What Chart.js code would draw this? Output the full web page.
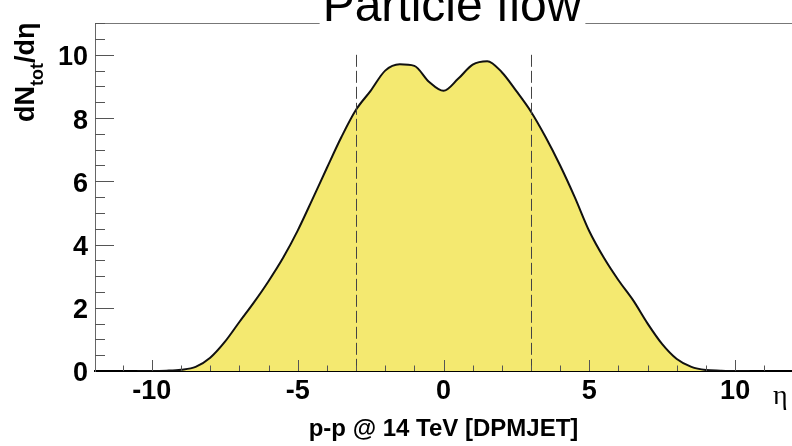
<!DOCTYPE html>
<html>
<head>
<meta charset="utf-8">
<script src="https://cdn.jsdelivr.net/npm/chart.js@4.4.1/dist/chart.umd.min.js"></script>
<style>
html,body{margin:0;padding:0;background:#fff;}
#wrap{width:792px;height:446px;position:relative;}
</style>
</head>
<body>
<div id="wrap"><canvas id="c" width="792" height="446"></canvas></div>
<script>
// ---- data ----
const etaValues = [-10.5,-10,-9.5,-9,-8.5,-8,-7.5,-7,-6.5,-6,-5.5,-5,-4.5,-4,-3.5,-3,-2.5,-2,-1.5,-1,-0.5,0,
                   0.5,1,1.5,2,2.5,3,3.5,4,4.5,5,5.5,6,6.5,7,7.5,8,8.5,9,9.5,10,10.5];
const dNdEta    = [0,0,0.01,0.04,0.13,0.42,0.92,1.55,2.17,2.84,3.58,4.44,5.42,6.42,7.4,8.26,8.86,9.5,9.7,9.65,9.15,8.86,
                   9.24,9.69,9.8,9.45,8.85,8.2,7.4,6.5,5.5,4.42,3.58,2.87,2.24,1.5,0.85,0.38,0.13,0.03,0.01,0,0];
const xTickValues = [-10,-5,0,5,10];
const yTickValues = [0,2,4,6,8,10];
const cutEta = [-3,3];
const cutTop = 10;
const titleText = 'Particle flow';
const xTitleText = 'p-p @ 14 TeV [DPMJET]';
const yTitleMain = 'dN';
const yTitleSub = 'tot';
const yTitleEnd = '/dη';
const xUnitText = 'η';

const SANS = "'Liberation Sans', Arial, Helvetica, sans-serif";

const decor = {
  id: 'decor',
  beforeDraw(chart) {
    const ctx = chart.ctx;
    ctx.save();
    ctx.fillStyle = '#ffffff';
    ctx.fillRect(0, 0, chart.width, chart.height);
    ctx.restore();
  },
  afterDatasetsDraw(chart) {
    const ctx = chart.ctx, a = chart.chartArea;
    const xs = chart.scales.x, ys = chart.scales.y;
    ctx.save();
    // dashed cut lines
    ctx.strokeStyle = '#444';
    ctx.lineWidth = 1;
    ctx.setLineDash([12, 4]);
    cutEta.forEach(e => {
      const px = Math.round(xs.getPixelForValue(e)) + 0.5;
      ctx.beginPath();
      ctx.moveTo(px, ys.getPixelForValue(cutTop));
      ctx.lineTo(px, ys.getPixelForValue(0));
      ctx.stroke();
    });
    ctx.setLineDash([]);
    // top frame
    ctx.strokeStyle = '#777';
    ctx.beginPath();
    ctx.moveTo(a.left, Math.round(a.top) + 0.5);
    ctx.lineTo(a.right, Math.round(a.top) + 0.5);
    ctx.stroke();
    // inward ticks
    ctx.strokeStyle = '#555';
    for (let k = 1; k <= 22; k++) {
      const v = k * 0.5;
      const major = (k % 4 === 0);
      const py = Math.round(ys.getPixelForValue(v)) + 0.5;
      ctx.beginPath();
      ctx.moveTo(a.left, py);
      ctx.lineTo(a.left + (major ? 19 : 10), py);
      ctx.stroke();
    }
    for (let v = -11; v <= 11; v++) {
      const major = (v % 5 === 0);
      const px = Math.round(xs.getPixelForValue(v)) + 0.5;
      ctx.beginPath();
      ctx.moveTo(px, a.bottom);
      ctx.lineTo(px, a.bottom - (major ? 11 : 5.5));
      ctx.stroke();
    }
    ctx.restore();
  },
  afterDraw(chart) {
    const ctx = chart.ctx;
    ctx.save();
    // title with white box over frame
    ctx.font = '48px ' + SANS;
    const tw = ctx.measureText(titleText).width;
    const cx = 452;
    ctx.fillStyle = '#fff';
    ctx.fillRect(cx - tw / 2 - 3, 0, tw + 7, 28);
    ctx.fillStyle = '#000';
    ctx.textAlign = 'center';
    ctx.textBaseline = 'alphabetic';
    ctx.fillText(titleText, cx, 21);
    // y title rotated
    ctx.save();
    ctx.translate(34, 122);
    ctx.rotate(-Math.PI / 2);
    ctx.textAlign = 'left';
    ctx.font = 'bold 27px ' + SANS;
    let x = 0;
    ctx.fillText(yTitleMain, x, 0);
    x += ctx.measureText(yTitleMain).width;
    ctx.font = 'bold 18px ' + SANS;
    ctx.fillText(yTitleSub, x, 9);
    x += ctx.measureText(yTitleSub).width;
    ctx.font = 'bold 27px ' + SANS;
    ctx.fillText(yTitleEnd, x, 0);
    ctx.restore();
    // eta unit label
    ctx.font = "28px 'Liberation Serif', 'DejaVu Serif', serif";
    ctx.textAlign = 'left';
    ctx.fillText(xUnitText, 773, 404);
    ctx.restore();
  }
};

const tickFont = { family: SANS, size: 27, weight: 'bold' };

new Chart(document.getElementById('c'), {
  type: 'line',
  data: {
    datasets: [{
      data: etaValues.map((e, i) => ({ x: e, y: dNdEta[i] })),
      borderColor: '#111',
      borderWidth: 2,
      backgroundColor: '#f4e970',
      fill: 'origin',
      pointRadius: 0,
      cubicInterpolationMode: 'monotone'
    }]
  },
  options: {
    responsive: false,
    animation: false,
    devicePixelRatio: 1,
    layout: { padding: { top: 14, right: 0, left: 0, bottom: 0 } },
    plugins: { legend: { display: false }, tooltip: { enabled: false }, title: { display: false } },
    scales: {
      x: {
        type: 'linear', min: -11.95, max: 11.95,
        afterBuildTicks: s => { s.ticks = xTickValues.map(v => ({ value: v })); },
        afterFit: s => { s.height = 75; },
        grid: { display: false, drawTicks: false },
        border: { display: true, color: '#000', width: 2 },
        ticks: { font: tickFont, color: '#000', padding: 4, maxRotation: 0, autoSkip: false },
        title: { display: true, text: xTitleText, color: '#000',
                 font: { family: SANS, size: 24, weight: 'bold' }, padding: { top: 0, bottom: 2 } }
      },
      y: {
        type: 'linear', min: 0, max: 11,
        afterBuildTicks: s => { s.ticks = yTickValues.map(v => ({ value: v })); },
        afterFit: s => { s.width = 95; },
        grid: { display: false, drawTicks: false },
        border: { display: true, color: '#666', width: 1 },
        ticks: { font: tickFont, color: '#000', padding: 7, labelOffset: 3, autoSkip: false }
      }
    }
  },
  plugins: [decor]
});
</script>
</body>
</html>
